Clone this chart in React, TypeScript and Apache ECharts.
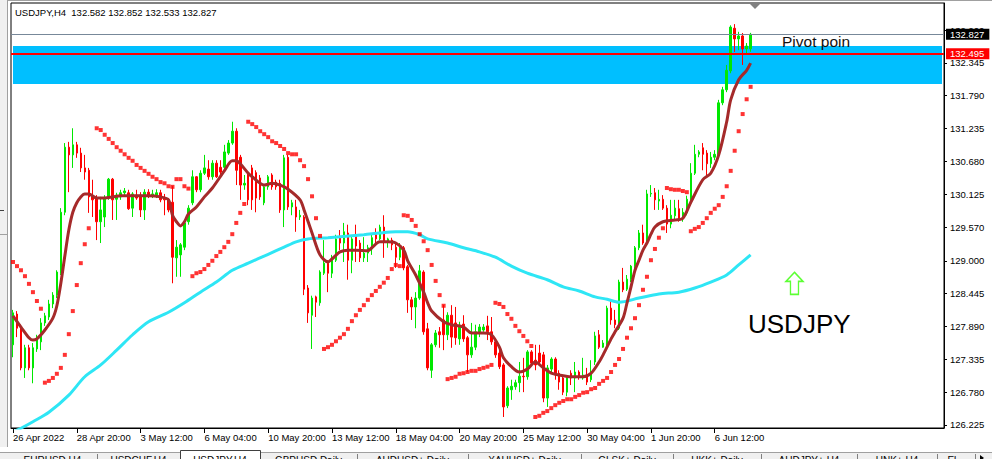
import React, { useEffect, useRef } from "react";
import * as echarts from "echarts";

const titleText = "USDJPY,H4  132.582 132.852 132.533 132.827";
const tickLabels = [
  "26 Apr 2022", "28 Apr 20:00", "3 May 12:00", "6 May 04:00", "10 May 20:00", "13 May 12:00",
  "18 May 04:00", "20 May 20:00", "25 May 12:00", "30 May 04:00", "1 Jun 20:00", "6 Jun 12:00",
];
const priceTicks = [126.225, 126.78, 127.335, 127.89, 128.445, 129.0, 129.57, 130.125, 130.68, 131.235, 131.79, 132.345, 132.9];
const TOTAL_SLOTS = 234;
const categories = Array.from({ length: TOTAL_SLOTS }, (_, i) => "bar " + i);

// [open, close, low, high]
const candles: number[][] = [
  [127.58,128.12,127.37,128.17],[128.10,127.86,127.71,128.15],[127.86,127.19,127.15,127.92],[127.19,127.53,127.02,127.58],
  [127.53,127.19,127.15,127.58],[127.19,127.53,126.93,127.61],[127.51,127.66,127.46,127.75],[127.63,127.95,127.49,128.03],
  [127.95,128.07,127.90,128.12],[128.05,128.27,128.00,128.34],[128.27,128.42,128.20,128.47],[128.42,128.81,128.37,128.84],
  [128.79,129.82,128.76,129.89],[129.82,130.92,129.77,130.99],[130.92,130.79,130.16,131.01],[130.79,130.96,130.57,131.24],
  [130.96,130.82,130.74,131.01],[130.82,130.57,130.50,130.91],[130.57,130.50,130.37,130.79],[130.53,130.08,129.81,130.57],
  [130.08,130.03,129.74,130.37],[130.06,129.66,129.35,130.11],[129.66,129.86,129.30,130.08],[129.74,130.06,129.57,130.11],
  [130.06,130.38,130.03,130.40],[130.38,130.03,129.69,130.40],[130.04,130.11,129.69,130.15],[130.08,130.15,130.03,130.20],
  [130.15,130.18,130.08,130.23],[130.15,129.88,129.86,130.20],[129.89,130.13,129.74,130.16],[130.11,130.06,130.03,130.20],
  [130.11,129.86,129.74,130.16],[129.86,130.16,129.69,130.21],[130.16,130.09,130.06,130.21],[130.09,130.13,130.06,130.20],
  [130.09,130.15,130.06,130.21],[130.15,130.03,129.99,130.20],[130.06,130.03,129.77,130.13],[130.03,129.86,129.82,130.06],
  [129.99,129.06,128.62,130.26],[129.05,129.23,128.73,129.35],[129.10,129.27,128.73,129.30],[129.23,129.64,129.18,129.69],
  [129.66,129.89,129.61,129.94],[129.98,130.42,129.94,130.53],[130.42,130.20,130.16,130.43],[130.20,130.48,130.16,130.53],
  [130.48,130.57,130.45,130.79],[130.55,130.42,130.37,130.70],[130.42,130.65,130.37,130.70],[130.65,130.42,130.40,130.70],
  [130.58,130.50,130.45,130.70],[130.58,130.84,130.53,130.96],[130.82,130.99,130.79,131.04],[130.99,131.19,130.96,131.35],
  [131.19,130.53,130.28,131.24],[130.75,130.28,130.03,130.79],[130.28,130.31,130.20,130.45],[130.45,130.03,129.94,130.50],
  [130.57,130.03,129.86,130.62],[130.49,130.06,129.82,130.53],[130.40,130.08,130.03,130.45],[129.98,130.25,129.94,130.28],
  [130.25,130.42,130.20,130.45],[130.45,130.25,130.20,130.48],[130.33,130.25,130.20,130.37],[130.31,129.86,129.81,130.37],
  [129.86,130.74,129.57,130.79],[130.75,129.91,129.86,130.79],[129.91,129.98,129.77,130.03],[129.91,129.74,129.49,130.03],
  [129.74,129.77,129.69,129.86],[129.74,128.52,128.42,129.77],[128.54,128.12,127.95,128.59],[128.08,128.37,127.51,128.41],
  [128.39,128.30,128.05,128.41],[128.29,128.81,128.24,128.84],[128.79,128.96,128.76,129.35],[128.96,128.79,128.47,129.01],
  [128.79,129.01,128.71,129.10],[129.01,129.37,128.98,129.44],[129.40,129.30,129.18,129.52],[129.30,129.49,128.98,129.64],
  [129.47,129.01,128.68,129.61],[129.01,129.37,128.79,129.42],[129.44,129.25,128.98,129.61],[129.30,129.05,128.98,129.35],
  [129.05,129.13,128.98,129.40],[129.13,129.22,128.98,129.27],[129.20,129.39,129.10,129.44],[129.44,129.37,129.28,129.55],
  [129.37,129.57,129.35,129.61],[129.57,129.33,129.05,129.77],[129.33,129.37,129.22,129.39],[129.35,129.27,129.18,129.39],
  [129.23,129.06,128.88,129.30],[129.06,129.23,129.01,129.30],[129.22,128.88,128.84,129.25],[128.90,128.34,128.12,128.93],
  [128.34,128.22,128.00,128.39],[128.22,128.37,127.86,128.47],[128.37,128.83,128.34,128.93],[128.81,127.80,127.75,128.84],
  [127.85,127.19,127.15,127.95],[127.15,127.58,127.02,127.61],[127.58,127.78,127.54,127.83],[127.80,127.75,127.53,127.88],
  [128.00,127.75,127.49,128.25],[127.75,128.08,127.66,128.13],[128.08,127.71,127.53,128.25],[127.95,127.70,127.58,128.22],
  [127.68,127.88,127.58,127.97],[127.93,127.68,127.63,128.08],[127.70,127.41,127.12,127.73],[127.41,127.54,127.36,127.95],
  [127.54,127.80,127.49,127.92],[127.78,127.88,127.71,127.93],[127.83,127.88,127.80,127.93],[127.90,127.80,127.66,128.07],
  [127.80,127.63,127.58,128.05],[127.63,127.41,127.36,127.66],[127.44,127.21,127.17,127.54],[127.24,126.53,126.36,127.27],
  [126.55,126.85,126.51,126.88],[126.82,126.88,126.65,126.99],[126.87,126.94,126.82,126.99],[126.94,127.05,126.78,127.29],
  [127.05,127.04,126.78,127.36],[127.04,127.46,126.99,127.49],[127.46,127.27,127.24,127.49],[127.32,127.24,127.15,127.58],
  [127.44,127.29,127.24,127.58],[127.41,126.68,126.61,127.46],[126.68,127.19,126.53,127.24],[127.17,127.34,127.12,127.37],
  [127.34,127.07,126.99,127.37],[127.10,126.95,126.82,127.15],[127.02,126.78,126.73,127.07],[126.78,127.02,126.71,127.07],
  [127.10,127.02,126.90,127.15],[127.02,127.12,126.78,127.29],[127.12,127.04,126.99,127.15],[127.02,127.07,126.99,127.36],
  [127.07,126.95,126.90,127.19],[126.99,127.10,126.95,127.32],[127.29,127.73,127.24,127.80],[127.75,127.54,127.51,127.83],
  [127.54,127.61,127.53,127.66],[127.54,128.20,127.51,128.24],[128.20,128.00,127.92,128.34],[128.00,127.92,127.86,128.17],
  [127.86,128.64,127.83,128.68],[128.64,128.51,128.47,128.88],[128.52,128.69,128.49,128.76],[128.69,128.91,128.64,128.93],
  [128.90,129.22,128.86,129.25],[129.22,129.47,129.18,129.52],[129.47,129.30,129.27,129.61],[129.30,130.13,129.25,130.20],
  [130.13,130.14,130.08,130.28],[130.15,130.03,129.86,130.23],[130.01,130.04,129.86,130.20],[130.04,129.89,129.86,130.11],
  [129.89,129.62,129.47,129.94],[129.62,129.77,129.55,130.03],[129.76,129.89,129.69,130.03],[129.88,129.72,129.66,130.03],
  [129.74,129.82,129.66,129.89],[129.81,130.04,129.77,130.10],[130.03,130.48,129.99,130.65],[130.48,130.80,130.45,130.96],
  [130.80,130.84,130.75,130.87],[130.91,130.80,130.53,130.99],[130.82,130.64,130.45,130.87],[130.64,130.75,130.57,130.84],
  [130.75,130.80,130.70,130.87],[130.79,131.67,130.75,131.72],[131.67,131.89,131.63,131.94],[131.89,132.22,131.85,132.31],
  [132.21,132.95,132.17,132.98],[132.93,132.75,132.53,133.00],[132.75,132.80,132.56,132.87],[132.80,132.58,132.31,132.85],
  [132.58,132.63,132.51,132.68],[132.582,132.827,132.533,132.852],
];

// brown moving average: [bar index, price]
const maFast: number[][] = [
  [0,128.07],[2,127.88],[4,127.70],[5,127.66],[6,127.68],[8,127.83],[10,128.03],[11,128.24],[12,128.62],[13,129.08],
  [14,129.52],[15,129.82],[16,129.98],[17,130.08],[18,130.13],[19,130.13],[21,130.06],[23,130.06],[25,130.08],[27,130.10],
  [30,130.10],[34,130.10],[37,130.08],[39,130.03],[40,129.77],[41,129.66],[42,129.59],[43,129.66],[44,129.79],[46,129.91],
  [48,130.08],[50,130.23],[53,130.52],[55,130.69],[56,130.69],[57,130.64],[59,130.48],[60,130.42],[63,130.28],[65,130.31],
  [67,130.28],[69,130.21],[72,130.03],[73,129.86],[75,129.47],[77,129.10],[79,128.98],[80,129.03],[82,129.15],[84,129.18],
  [86,129.18],[89,129.17],[90,129.22],[92,129.32],[94,129.32],[96,129.30],[98,129.18],[99,129.00],[101,128.76],[103,128.47],
  [104,128.29],[105,128.15],[108,127.97],[110,127.92],[113,127.88],[115,127.78],[118,127.78],[120,127.75],[122,127.54],[123,127.36],
  [125,127.21],[127,127.12],[129,127.17],[131,127.29],[133,127.19],[135,127.10],[137,127.07],[140,127.04],[143,127.04],[145,127.10],
  [147,127.29],[148,127.41],[150,127.68],[151,127.80],[153,128.03],[154,128.29],[155,128.56],[156,128.84],[157,129.01],[158,129.18],
  [159,129.30],[160,129.45],[161,129.57],[163,129.66],[166,129.69],[168,129.72],[170,129.99],[173,130.37],[175,130.48],[177,130.79],
  [179,131.35],[180,131.72],[182,132.06],[184,132.22],[185,132.34],
];

// cyan moving average: [bar index, price]
const maSlow: number[][] = [
  [0,126.11],[2,126.17],[5,126.28],[9,126.44],[14,126.73],[18,127.04],[22,127.24],[26,127.49],[30,127.75],[34,127.97],
  [39,128.13],[43,128.29],[47,128.47],[51,128.64],[55,128.84],[59,128.96],[64,129.11],[68,129.23],[71,129.32],[74,129.37],
  [79,129.39],[88,129.44],[92,129.47],[96,129.49],[99,129.49],[102,129.44],[104,129.37],[109,129.30],[113,129.22],[117,129.15],
  [121,129.06],[125,128.91],[129,128.79],[134,128.68],[138,128.56],[142,128.49],[146,128.39],[149,128.35],[152,128.30],[157,128.37],
  [162,128.44],[167,128.47],[171,128.54],[175,128.64],[179,128.76],[182,128.93],[185,129.10],
];

// parabolic SAR, one value per bar
const sar: (number | null)[] = [
  128.98,128.91,128.84,128.74,128.61,128.47,128.32,128.19,
  126.94,126.97,127.02,127.09,127.19,127.41,127.76,128.15,128.59,128.96,129.28,129.55,
  null,
  131.24,131.21,131.13,131.06,130.99,130.92,130.86,130.80,130.74,130.69,130.62,130.57,130.52,130.47,130.42,130.38,130.33,130.31,130.26,
  130.25,130.38,130.38,130.26,130.22,
  128.74,128.79,128.81,128.86,128.93,129.00,129.08,129.15,129.23,129.32,129.45,129.64,129.81,129.96,
  131.35,131.31,131.26,131.19,131.14,131.09,131.02,130.99,130.94,130.89,130.82,130.80,130.80,130.70,130.60,130.38,130.09,129.72,129.42,
  127.51,127.54,127.58,127.64,127.70,127.76,127.85,127.98,128.08,128.17,128.25,128.34,128.42,128.49,128.56,128.63,128.71,128.86,128.93,128.91,
  129.77,129.76,129.69,129.59,129.45,129.33,129.18,128.93,128.66,128.42,128.24,
  127.00,127.02,127.04,127.09,127.10,127.12,127.14,127.14,127.17,127.19,127.21,127.24,
  128.29,128.27,128.22,128.10,128.02,127.90,127.81,127.73,127.64,127.56,
  126.36,126.38,126.43,126.46,126.51,126.56,126.60,126.63,126.66,126.66,126.70,126.73,126.77,126.78,126.83,126.85,126.92,126.97,127.02,
  127.12,127.24,127.34,127.51,127.70,127.86,128.03,128.25,128.51,128.73,129.01,129.20,129.39,129.55,
  130.23,130.21,130.20,130.20,130.18,130.16,
  129.50,129.54,129.57,129.64,129.72,129.81,129.88,129.94,130.08,130.26,130.52,130.86,131.19,131.48,131.73,131.94,
];

const pivotLevel = 132.495;
const lastPrice = 132.827;
const zoneTop = 132.632;
const zoneBottom = 131.99;
const arrowBar = 196;
const arrowPrice = 128.62;

const tabs = [
  { name: "EURUSD,H4", from: 8, to: 97 },
  { name: "USDCHF,H4", from: 97, to: 180 },
  { name: "USDJPY,H4", from: 180, to: 260, active: true },
  { name: "GBPUSD,Daily", from: 260, to: 357 },
  { name: "AUDUSD+,Daily", from: 357, to: 468 },
  { name: "XAUUSD+,Daily", from: 468, to: 581 },
  { name: "GLSK+,Daily", from: 581, to: 673 },
  { name: "UKK+,Daily", from: 673, to: 761 },
  { name: "AUDJPY+,H4", from: 761, to: 857 },
  { name: "UNK+,H4", from: 857, to: 937 },
  { name: "El...", from: 937, to: 975 },
];

const FONT = '"Liberation Sans", Arial, sans-serif';

export default function App() {
  const ref = useRef<HTMLDivElement>(null);
  useEffect(() => {
    if (!ref.current) return;
    const chart = echarts.init(ref.current, null, { renderer: "svg" });
    const showTick = (i: number) => i % 16 === 0 && i / 16 < tickLabels.length;
    const sarData = sar.map((v, i) => (v == null ? null : [i, v])).filter((d) => d !== null);

    const graphics: any[] = [
      { type: "rect", silent: true, shape: { x: 0, y: 0, width: 7, height: 447 }, style: { fill: "#F0F0F0" } },
      { type: "line", silent: true, shape: { x1: 7.5, y1: 0, x2: 7.5, y2: 447 }, style: { stroke: "#A0A0A0", lineWidth: 1 } },
      { type: "line", silent: true, shape: { x1: 0, y1: 234.5, x2: 7, y2: 234.5 }, style: { stroke: "#A0A0A0", lineWidth: 1 } },
      { type: "line", silent: true, shape: { x1: 0, y1: 210.5, x2: 4, y2: 210.5 }, style: { stroke: "#404040", lineWidth: 1 } },
      { type: "line", silent: true, shape: { x1: 8, y1: 0.5, x2: 992, y2: 0.5 }, style: { stroke: "#A0A0A0", lineWidth: 1 } },
      { type: "polygon", silent: true, z: 100, shape: { points: [[750, 4], [760, 4], [755, 9]] }, style: { fill: "#808080" } },
      { type: "text", silent: true, z: 100, style: { text: titleText, x: 15, y: 12, fill: "#000", fontSize: 9.5, fontFamily: FONT, verticalAlign: "middle" } },
      { type: "text", silent: true, z: 100, style: { text: "Pivot poin", x: 782, y: 41, fill: "#111", fontSize: 15.5, fontFamily: FONT, verticalAlign: "middle" } },
      { type: "text", silent: true, z: 100, style: { text: "USDJPY", x: 748, y: 324, fill: "#000", fontSize: 26, fontFamily: FONT, verticalAlign: "middle" } },
      { type: "rect", silent: true, shape: { x: 0, y: 452, width: 992, height: 7 }, style: { fill: "#F0F0F0" } },
      { type: "line", silent: true, shape: { x1: 0, y1: 452.5, x2: 992, y2: 452.5 }, style: { stroke: "#A0A0A0", lineWidth: 1 } },
    ];
    tabs.forEach((t) => {
      if (t.active) {
        graphics.push({ type: "rect", silent: true, shape: { x: t.from + 0.5, y: 450.5, width: t.to - t.from, height: 10 }, style: { fill: "#fff", stroke: "#404040", lineWidth: 1 } });
      } else {
        graphics.push({ type: "line", silent: true, shape: { x1: t.to + 0.5, y1: 454, x2: t.to + 0.5, y2: 459 }, style: { stroke: "#808080", lineWidth: 1 } });
      }
      graphics.push({ type: "text", silent: true, style: { text: t.name, x: (t.from + t.to) / 2, y: 460, align: "center", verticalAlign: "middle", fill: "#000", fontSize: 10, fontFamily: FONT } });
    });
    graphics.push({ type: "polygon", silent: true, shape: { points: [[980, 455], [984, 458], [980, 461]] }, style: { fill: "#000" } });

    const option: any = {
      animation: false,
      backgroundColor: "#ffffff",
      textStyle: { fontFamily: FONT },
      grid: { left: 11, right: 48, top: 3, bottom: 31, show: true, borderColor: "#000", borderWidth: 1, backgroundColor: "transparent" },
      xAxis: {
        type: "category",
        data: categories,
        boundaryGap: true,
        axisLine: { show: true, lineStyle: { color: "#000", width: 1 } },
        axisTick: { show: true, alignWithLabel: true, length: 5, interval: (i: number) => showTick(i), lineStyle: { color: "#000" } },
        axisLabel: {
          interval: (i: number) => showTick(i),
          formatter: (_v: string, i: number) => tickLabels[i / 16] ?? "",
          align: "left",
          margin: 4,
          fontSize: 9.5,
          color: "#000",
          fontFamily: FONT,
        },
        splitLine: { show: false },
      },
      yAxis: {
        type: "value",
        position: "right",
        min: 126.174,
        max: 133.357,
        axisLine: { show: true, lineStyle: { color: "#000" } },
        axisTick: { show: true, length: 3, customValues: priceTicks, lineStyle: { color: "#000" } },
        axisLabel: { customValues: priceTicks, formatter: (v: number) => v.toFixed(3), margin: 6, fontSize: 9.5, color: "#000", fontFamily: FONT },
        splitLine: { show: false },
      },
      graphic: graphics,
      series: [
        {
          type: "candlestick",
          data: candles,
          barWidth: 2,
          z: 2,
          itemStyle: { color: "#00E800", color0: "#FF0000", borderColor: "#00E800", borderColor0: "#FF0000", borderWidth: 1 },
          markArea: {
            silent: true,
            itemStyle: { color: "#00BFFF", opacity: 1 },
            data: [[{ xAxis: 0, yAxis: zoneTop }, { xAxis: TOTAL_SLOTS - 1, yAxis: zoneBottom }]],
          },
          markLine: {
            silent: true,
            symbol: ["none", "none"],
            data: [
              {
                yAxis: lastPrice,
                lineStyle: { color: "#778899", width: 1, type: "solid" },
                label: { show: true, position: "end", formatter: lastPrice.toFixed(3), color: "#fff", backgroundColor: "#000", padding: [1, 5, 0, 4], fontSize: 9.5, fontFamily: FONT, distance: 2 },
              },
              {
                yAxis: pivotLevel,
                lineStyle: { color: "#FF0000", width: 2, type: "solid" },
                label: { show: true, position: "end", formatter: pivotLevel.toFixed(3), color: "#fff", backgroundColor: "#FF0000", padding: [1, 5, 0, 4], fontSize: 9.5, fontFamily: FONT, distance: 2 },
              },
            ],
          },
        },
        {
          type: "line",
          data: maSlow,
          z: 3,
          smooth: 0.3,
          showSymbol: false,
          lineStyle: { color: "#2EE6F5", width: 3 },
        },
        {
          type: "line",
          data: maFast,
          z: 3,
          smooth: 0.3,
          showSymbol: false,
          lineStyle: { color: "#A52A2A", width: 3 },
        },
        {
          type: "scatter",
          data: sarData,
          z: 4,
          symbol: "rect",
          symbolSize: 4,
          itemStyle: { color: "#FF0000" },
        },
        {
          type: "scatter",
          data: [[arrowBar, arrowPrice]],
          z: 4,
          symbol: "path://M8.5,0 L17,9 L12.5,9 L12.5,22 L4.5,22 L4.5,9 L0,9 Z",
          symbolSize: [17, 22],
          symbolKeepAspect: false,
          itemStyle: { color: "#FFFFFF", borderColor: "#33FF00", borderWidth: 1.5 },
        },
      ],
    };
    chart.setOption(option);
    return () => chart.dispose();
  }, []);
  return (
    <div style={{ position: "fixed", left: 0, top: 0, width: 992, height: 459, background: "#fff" }}>
      <div ref={ref} style={{ width: 992, height: 459 }} />
    </div>
  );
}
